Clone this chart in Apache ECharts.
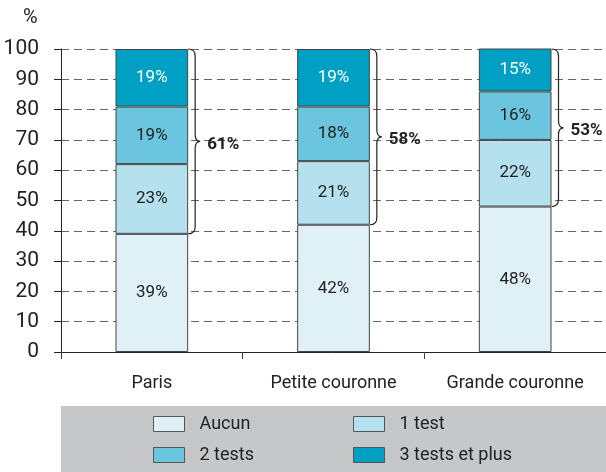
<!DOCTYPE html>
<html>
<head>
<meta charset="utf-8">
<script src="https://cdn.jsdelivr.net/npm/echarts@6/dist/echarts.min.js"></script>
<style>
  html, body { margin: 0; padding: 0; background: #fff; }
  #chart { width: 606px; height: 472px; }
</style>
</head>
<body>
<div id="chart"></div>
<script>
// data
var categories = ['Paris', 'Petite couronne', 'Grande couronne']
var aucun = [39, 42, 48]
var unTest = [23, 21, 22]
var deuxTests = [19, 18, 16]
var troisTests = [19, 19, 15]
var braceLabels = ['61%', '58%', '53%']
var yTicks = [0, 10, 20, 30, 40, 50, 60, 70, 80, 90, 100]

var font = 'Roboto'
var colors = ['#dff0f7', '#b5e0ed', '#6bc5de', '#00a0c4']
var names = ['Aucun', '1 test', '2 tests', '3 tests et plus']

var chart = echarts.init(document.getElementById('chart'))

function barSeries(name, data, color, labelColor) {
  return {
    name: name,
    type: 'bar',
    stack: 'tests',
    barWidth: '40%',
    data: data,
    itemStyle: { color: color, borderColor: '#444', borderWidth: 1 },
    label: {
      show: true,
      position: 'inside',
      formatter: '{c}%',
      color: labelColor,
      fontFamily: font,
      fontSize: 17
    }
  }
}

var braceData = categories.map(function (c, i) {
  return [i, aucun[i], yTicks[yTicks.length - 1], braceLabels[i]]
})

function renderBrace(params, api) {
  var cat = api.value(0)
  var lo = api.coord([cat, api.value(1)])
  var hi = api.coord([cat, api.value(2)])
  var half = api.size([1, 0])[0] * 0.2
  var x0 = lo[0] + half
  var x1 = x0 + 7
  var x2 = x0 + 12
  var y0 = hi[1]
  var y1 = lo[1]
  var ym = (y0 + y1) / 2
  var r = 7
  var d = 'M' + x0 + ' ' + y0 +
    ' Q' + x1 + ' ' + y0 + ' ' + x1 + ' ' + (y0 + r) +
    ' L' + x1 + ' ' + (ym - r) +
    ' Q' + x1 + ' ' + ym + ' ' + x2 + ' ' + ym +
    ' Q' + x1 + ' ' + ym + ' ' + x1 + ' ' + (ym + r) +
    ' L' + x1 + ' ' + (y1 - r) +
    ' Q' + x1 + ' ' + y1 + ' ' + x0 + ' ' + y1
  return {
    type: 'group',
    children: [{
      type: 'path',
      shape: { pathData: d },
      style: { fill: 'none', stroke: '#222', lineWidth: 1.2 }
    }, {
      type: 'text',
      x: x0 + 19,
      y: ym + 3,
      style: {
        text: braceLabels[params.dataIndex],
        font: 'bold 17px ' + font,
        fill: '#222',
        verticalAlign: 'middle'
      }
    }]
  }
}

function legendAt(name, left, top) {
  return {
    data: [name],
    left: left,
    top: top,
    padding: 0,
    icon: 'rect',
    itemWidth: 31,
    itemHeight: 15,
    selectedMode: false,
    itemStyle: { borderColor: '#555', borderWidth: 1 },
    textStyle: { fontFamily: font, fontSize: 18, color: '#222', padding: [0, 0, 0, 10], lineHeight: 18 }
  }
}

chart.setOption({
  animation: false,
  grid: { left: 61, right: 0, top: 49, bottom: 120 },
  graphic: [{
    type: 'rect',
    left: 61,
    top: 406,
    shape: { width: 545, height: 66 },
    style: { fill: '#c6c7c9' },
    z: -1
  }, {
    type: 'text',
    left: 23,
    top: 8,
    style: { text: '%', font: '20px ' + font, fill: '#222' }
  }],
  legend: [
    legendAt(names[0], 153, 415),
    legendAt(names[1], 353, 415),
    legendAt(names[2], 153, 446),
    legendAt(names[3], 353, 446)
  ],
  xAxis: {
    type: 'category',
    data: categories,
    axisLine: { lineStyle: { color: '#222', width: 1 } },
    axisTick: { show: true, length: 7, lineStyle: { color: '#444' } },
    axisLabel: { margin: 22, fontFamily: font, fontSize: 18, color: '#222' }
  },
  yAxis: {
    type: 'value',
    min: yTicks[0],
    max: yTicks[yTicks.length - 1],
    interval: 10,
    axisLine: { show: true, lineStyle: { color: '#222', width: 1 } },
    axisTick: { show: true, length: 7, lineStyle: { color: '#222' } },
    axisLabel: { margin: 22, fontFamily: font, fontSize: 21, color: '#222' },
    splitLine: { show: true, lineStyle: { color: '#666', type: [8, 5], width: 1 } }
  },
  series: [
    barSeries(names[0], aucun, colors[0], '#222'),
    barSeries(names[1], unTest, colors[1], '#222'),
    barSeries(names[2], deuxTests, colors[2], '#222'),
    barSeries(names[3], troisTests, colors[3], '#fff'),
    {
      type: 'custom',
      renderItem: renderBrace,
      data: braceData,
      encode: { x: 0, y: [1, 2] },
      z: 5
    }
  ]
})
</script>
</body>
</html>
